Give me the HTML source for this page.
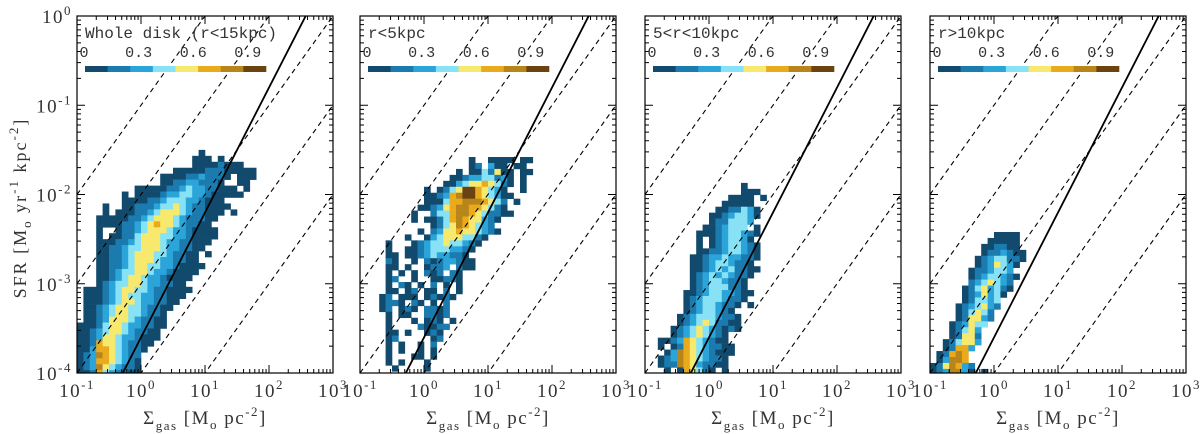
<!DOCTYPE html>
<html><head><meta charset="utf-8">
<style>
html,body{margin:0;padding:0;background:#fff;width:1200px;height:434px;overflow:hidden;}
svg{display:block;}
text{font-family:"Liberation Serif",serif;fill:#333;}
.mono{font-family:"Liberation Mono",monospace;}
</style></head>
<body>
<svg id="fig" width="1200" height="434" viewBox="0 0 1200 434" xmlns="http://www.w3.org/2000/svg"></svg>
<script>
// ---- data ----
const panelTitles = ["Whole disk (r<15kpc)", "r<5kpc", "5<r<10kpc", "r>10kpc"];
const xTickLabels = ["-1","0","1","2","3"];
const yTickLabels = ["-4","-3","-2","-1","0"];
const cbarLabels = ["0","0.3","0.6","0.9"];
const cbarColors = ["#114a6c","#1b7aae","#2ba4da","#86e2f4","#f7e86e","#e9aa1c","#b8851a","#6a4311"];
const depletionLogs = [-1,-2,-3,-4,-5];   // log10(SFR/Sigma) of dashed lines
const ksCoef = 2.5e-4, ksSlope = 1.4;      // solid Kennicutt-Schmidt line
const gridTopLog = [-1.50, -1.58, -1.87, -2.42]; // log SFR of top edge of each heatmap
const heat1 = [
"...................1........",
"..................111.1.....",
"..................11112111..",
"...............1111122211111",
".............11112232221.111",
".............1122332221..11.",
".........1111122343322111.1.",
".......1.11112334433211111..",
".......1111223444332111.....",
"....1..11222344543221111....",
"....1.11122345554322111.1...",
"...1111122345554322211......",
"...111122345655432211.......",
"...1..1223455543321111......",
"...1.11224555443321111......",
"...111223455543322111.......",
"...11223445554332211........",
"...1122345554432211.1.......",
"...1122345554332211.........",
"...11223455443321111........",
"...1123445543321111.........",
"...112345543321111..........",
"...12344554332211...........",
".11123455443221111..........",
".1112345443322111...........",
".111234554332211............",
".11234554432211.............",
".1123455443221..............",
".1123555432211..............",
"11124554332211..............",
"1123455432211...............",
"1123554332111...............",
"112655432211................",
"11366543221.................",
"1237654322..................",
"1236654321..................",
"1237543221..................",
"1126432211.................."];
const heat2 = [
".................1..1111.11",
".................12.311.11.",
"...............1.1142511.11",
"..............1123344231.1.",
".............11345565421.1.",
"..........1.12458865431..1.",
"..........11236788654311...",
"..........1114667776542.1..",
".........11235677665421....",
"........1..2446776542211...",
"........1.112467655321.....",
"...........1245765432......",
".........1.23556554321.....",
".......1..1345554421.......",
"....1...12344544321........",
"....1..11234443321.........",
"....11.1123433221..........",
"....21..1.21233211.........",
"....11.1..1223.211.........",
"....1.1.1.212.21...........",
"....12..1..11221...........",
"....1.21.1.2.1.1...........",
"....11.12.11.2.1...........",
"...12.111.12121............",
"...1221.21.1.2.............",
"...12.121.2212.............",
"....1.11..2212.............",
"....1...1.121.1............",
"....1....21122.............",
"....11.1..121..............",
"....12.....12..............",
"....1.1..1.2...............",
"....1.1..1.1...............",
"....1...11.1...............",
"....1.1...1................",
".....1....1................"];
const heat3 = [
"...............1..",
"...............111",
".............1111.1",
"............11111..",
"...........1122431.",
"..........11234431.",
"..........1224443..",
".........1123444.1.",
"........1112344321.",
"........1.1234431..",
"........1.12344321.",
"........1122344321.",
".......11233433221.",
".......1123443221..",
".......11234342211.",
".......1234343221..",
".......123443221...",
".......123444221...",
"......11234433211..",
"......1234443221...",
"......123443221.1..",
"......12344321.....",
".....1234443221....",
".....1234542211....",
"....12345432121....",
"....123454321......",
"..11236543211......",
"..1.1265432211.....",
"...13765432111.....",
"..12376543221......",
"..12276532211......",
"...1.165421.1......"];
const heat4 = [
"..........1111",
".........11111",
"........112211",
"........1223211",
".......12344221",
".......1235431",
"......1223443",
"......12344321",
"......2345432",
".....12453421",
".....1235341",
".....124434",
"....1234532",
"....124542",
"....125532",
"...123544",
"...12453",
"...12552",
"..124553",
"..12663",
".12676",
".13776",
"1257632",
"1237731.1"];
const heats = [heat1, heat2, heat3, heat4];

// ---- layout ----
const panelX = [77, 360, 645, 930];
const PW = 256, PT = 16, PB = 373;
const DX = PW / 4, DY = (PB - PT) / 4;
const CW = 0.1, CH = 0.0667; // cell size in dex
const NS = "http://www.w3.org/2000/svg";
const svg = document.getElementById('fig');
function mk(tag, attrs, parent) {
  const e = document.createElementNS(NS, tag);
  for (const k in attrs) e.setAttribute(k, attrs[k]);
  (parent || svg).appendChild(e);
  return e;
}
function lx(px, lg) { return px + (lg + 1) * DX; }
function ly(lg) { return PB - (lg + 4) * DY; }

const defs = mk('defs', {});
panelX.forEach((px, p) => {
  const cp = mk('clipPath', {id: 'clip' + p}, defs);
  mk('rect', {x: px, y: PT, width: PW, height: PB - PT}, cp);
});

panelX.forEach((px, p) => {
  const g = mk('g', {});
  
  
  const inner = mk('g', {'clip-path': 'url(#clip' + p + ')'}, g);
  const hm = mk('g', {}, inner);
  
  
  heats[p].forEach((row, r) => {
    const top = gridTopLog[p] - r * CH;
    for (let c = 0; c < row.length; c++) {
      const ch = row[c];
      if (ch === '.') continue;
      const lv = parseInt(ch, 10) - 1;
      const x0 = lx(px, -1 + c * CW), x1 = lx(px, -1 + (c + 1) * CW);
      const y0 = ly(top), y1 = ly(top - CH);
      const cell = mk('rect', {x: x0, y: y0, width: x1 - x0 + 0.3, height: y1 - y0 + 0.3, fill: cbarColors[lv]}, hm);
      
      
    }
  });
  depletionLogs.forEach(k => {
    const l = mk('line', {x1: lx(px, -1), y1: ly(-1 + k), x2: lx(px, 3), y2: ly(3 + k), stroke: '#000', 'stroke-width': 1.1, 'stroke-dasharray': '5,4'}, inner);
    
    
  });
  const ksL = Math.log10(ksCoef);
  const ks = mk('line', {x1: lx(px, -1), y1: ly(ksL + ksSlope * -1), x2: lx(px, 3), y2: ly(ksL + ksSlope * 3), stroke: '#000', 'stroke-width': 1.8}, inner);
  
  

  const fr = mk('rect', {x: px, y: PT, width: PW, height: PB - PT, fill: 'none', stroke: '#000', 'stroke-width': 1.2}, g);
  
  
  let d = '';
  for (let dec = -1; dec < 3; dec++) {
    for (let m = 1; m < 10; m++) {
      const x = lx(px, dec + Math.log10(m));
      const L = m === 1 ? 8 : 4;
      d += `M${x},${PB}v${-L}M${x},${PT}v${L}`;
    }
  }
  for (let dec = -4; dec < 0; dec++) {
    for (let m = 1; m < 10; m++) {
      const y = ly(dec + Math.log10(m));
      const L = m === 1 ? 8 : 4;
      d += `M${px},${y}h${L}M${px + PW},${y}h${-L}`;
    }
  }
  const tk = mk('path', {d: d, stroke: '#000', 'stroke-width': 1, fill: 'none'}, g);
  
  

  xTickLabels.forEach((lab, i) => {
    const t = mk('text', {x: lx(px, -1 + i), y: 397, 'font-size': 19, 'letter-spacing': 1.5, 'text-anchor': 'middle'}, g);
    
    
    t.appendChild(document.createTextNode('10'));
    const s = mk('tspan', {dy: -8, 'font-size': 13}, t);
    s.textContent = lab;
  });
  const xt = mk('text', {x: px + PW / 2, y: 424, 'font-size': 19, 'letter-spacing': 1.5, 'text-anchor': 'middle'}, g);
  
  
  xt.innerHTML = 'Σ<tspan dy="6" font-size="13">gas</tspan><tspan dy="-6">  [M</tspan><tspan dy="5" font-size="13">o</tspan><tspan dy="-5">  pc</tspan><tspan dy="-8" font-size="13">-2</tspan><tspan dy="8">]</tspan>';

  const tt = mk('text', {x: px + 8, y: 38, 'font-size': 16, class: 'mono'}, g);
  
  
  tt.textContent = panelTitles[p];
  const cb = mk('g', {}, g);
  
  
  const cbx = px + 8, cbw = 181;
  cbarColors.forEach((c, i) => {
    const r = mk('rect', {x: cbx + i * cbw / 8, y: 66, width: cbw / 8 + 0.3, height: 6, fill: c}, cb);
    
    
  });
  cbarLabels.forEach((lab, i) => {
    const v = parseFloat(lab);
    const t = mk('text', {x: px + 7 + v * 182, y: 57, 'font-size': 15, class: 'mono', 'text-anchor': 'middle'}, cb);
    
    
    t.textContent = lab;
  });
});

yTickLabels.forEach((lab, i) => {
  const t = mk('text', {x: 72, y: ly(-4 + i) + 7, 'font-size': 19, 'letter-spacing': 1.5, 'text-anchor': 'end'});
  
  
  t.appendChild(document.createTextNode('10'));
  const s = mk('tspan', {dy: -8, 'font-size': 13}, t);
  s.textContent = lab;
});
const yt = mk('text', {x: 0, y: 0, 'font-size': 18, 'letter-spacing': 2, 'text-anchor': 'middle', transform: 'translate(26,208) rotate(-90)'});


yt.innerHTML = 'SFR [M<tspan dy="5" font-size="13">o</tspan><tspan dy="-5"> yr</tspan><tspan dy="-8" font-size="13">-1</tspan><tspan dy="8"> kpc</tspan><tspan dy="-8" font-size="13">-2</tspan><tspan dy="8">]</tspan>';
</script>
</body></html>
